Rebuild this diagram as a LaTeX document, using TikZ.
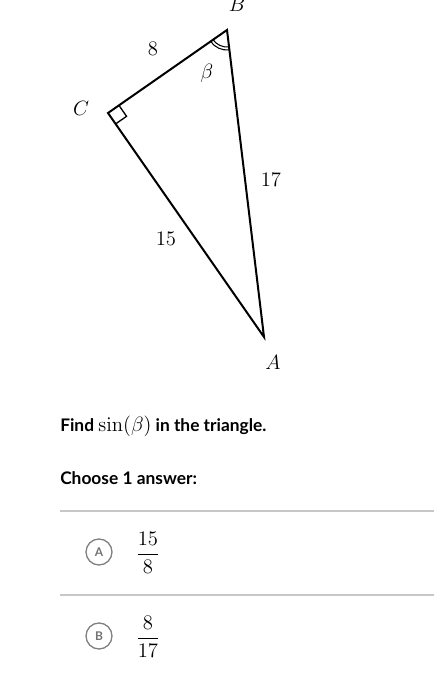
\documentclass[tikz,border=0pt]{standalone}
\usepackage{fix-cm}
\usepackage[no-math]{fontspec}
\setmainfont{Lato}
\usetikzlibrary{angles}

\newcommand{\bigmath}[1]{{\fontsize{15.5}{16}\selectfont$#1$}}

\begin{document}
\begin{tikzpicture}[x=0.75pt, y=0.75pt,
    lbl/.style={font=\fontsize{15.5}{18}\selectfont},
    prompt/.style={anchor=west, inner sep=0pt, font=\fontsize{13}{16}\selectfont\bfseries},
    sep/.style={draw=black!22, line width=0.8pt},
    choice/.style={circle, draw=black!50, line width=1pt, minimum size=19.5pt, inner sep=0pt,
        text=black!55, font=\fontsize{9}{10}\selectfont\bfseries}
]
    \useasboundingbox (0,0) rectangle (434,-677);

    % triangle
    \coordinate (B) at (227,-30);
    \coordinate (C) at (108,-113);
    \coordinate (A) at (264,-337);
    \draw[line width=1.5pt] (A) -- (B) -- (C) -- cycle;
    \pic[draw, line width=0.8pt, angle radius=12.75pt] {angle=C--B--A};
    \pic[draw, line width=0.8pt, angle radius=15pt] {angle=C--B--A};
    \pic[draw, line width=1pt, angle radius=10pt] {right angle=A--C--B};

    \node[lbl] (labB) at (237,-4) {$B$};
    \node[lbl] (labC) at (81,-108) {$C$};
    \node[lbl] (labA) at (273,-362) {$A$};
    \node[lbl] (labbeta) at (207,-73) {$\beta$};
    \node[lbl] (labCB) at (153,-49) {$8$};
    \node[lbl] (labAB) at (271,-180) {$17$};
    \node[lbl] (labAC) at (166,-239) {$15$};

    % question
    \node[prompt] (question) at (60,-426) {Find \bigmath{\sin(\beta)} in the triangle.};
    \node[prompt] (choose) at (60,-478) {Choose 1 answer:};

    \draw[sep] (60,-511) -- (434,-511);
    \draw[sep] (60,-595) -- (434,-595);

    \node[choice] (optA) at (99,-552) {A};
    \node[lbl] (ansA) at (148,-552.5) {$\displaystyle\frac{15}{8}$};
    \node[choice] (optB) at (99,-636) {B};
    \node[lbl] (ansB) at (148,-636.5) {$\displaystyle\frac{8}{17}$};
\end{tikzpicture}
\end{document}
